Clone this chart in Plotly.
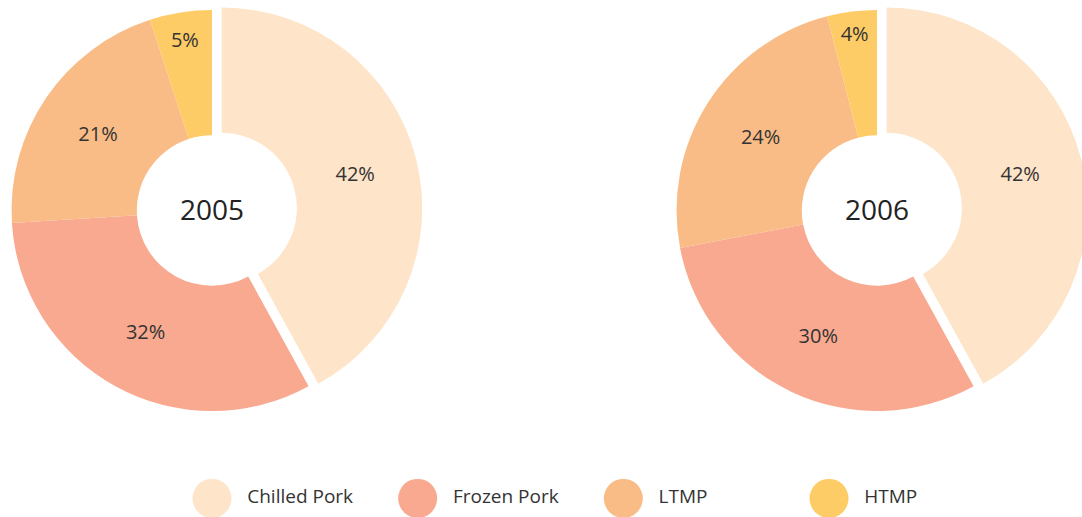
import plotly.graph_objects as go

categories = ["Chilled Pork", "Frozen Pork", "LTMP", "HTMP"]
values_2005 = [42, 32, 21, 5]
values_2006 = [42, 30, 24, 4]
years = ["2005", "2006"]
colors = ["#FEE4C8", "#F8A98F", "#F9BC86", "#FECC66"]
pulls = [0.05, 0, 0, 0]

W, H = 1092, 517
FONT = "Open Sans"

fig = go.Figure()

def pie_domain(cx, cy, half):
    return dict(x=[(cx - half) / W, (cx + half) / W],
                y=[1 - (cy + half) / H, 1 - (cy - half) / H])

domains = [pie_domain(212, 210.5, 210.5), pie_domain(877, 210.5, 210.5)]

for vals, yr, dom in zip([values_2005, values_2006], years, domains):
    fig.add_trace(go.Pie(
        labels=categories, values=vals, sort=False, direction="clockwise",
        rotation=0, hole=0.375, pull=pulls,
        marker=dict(colors=colors, line=dict(width=0)),
        textinfo="percent", texttemplate="%{percent:.0%}",
        textposition="inside", insidetextorientation="horizontal",
        textfont=dict(family=FONT, size=20, color="#333333"),
        title=dict(text=yr, position="middle center",
                   font=dict(family=FONT, size=28, color="#222222")),
        domain=dom, showlegend=False, hoverinfo="label+percent",
    ))

# custom legend with large circles
fig.add_trace(go.Scatter(
    x=list(range(len(categories))), y=[0] * len(categories),
    mode="markers+text", text=["  " + c for c in categories], textposition="middle right",
    marker=dict(size=39, color=colors, line=dict(width=0)),
    textfont=dict(family=FONT, size=19, color="#333333"),
    showlegend=False, hoverinfo="skip", cliponaxis=False,
))

x_lo = -212 / 205.67
x_hi = x_lo + W / 205.67

fig.update_layout(
    width=W, height=H,
    margin=dict(l=0, r=0, t=0, b=0),
    paper_bgcolor="white", plot_bgcolor="rgba(0,0,0,0)",
    uniformtext=dict(minsize=20, mode="show"),
    xaxis=dict(visible=False, range=[x_lo, x_hi], fixedrange=True),
    yaxis=dict(visible=False, range=[-1, 1], domain=[0, 0.072], fixedrange=True),
    showlegend=False,
)

fig.write_html(
    "out.html",
    config={"displayModeBar": False},
    post_script="document.body.style.margin='0';document.body.style.overflow='hidden';"
                "document.documentElement.style.overflow='hidden';",
)
